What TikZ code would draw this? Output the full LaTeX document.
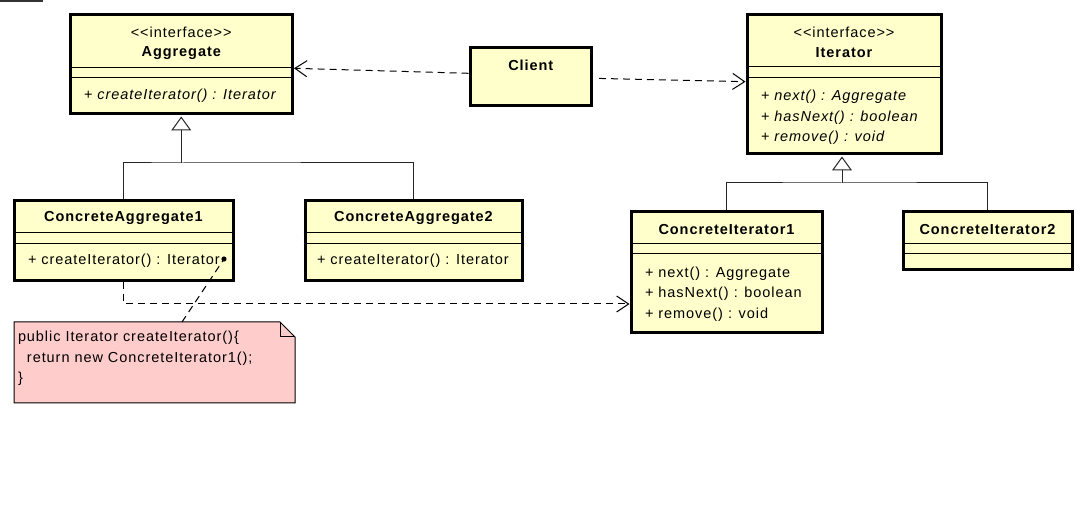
\documentclass[tikz,border=0pt]{standalone}
\usepackage{fontspec}
\setmainfont{Liberation Sans}[LetterSpace=6.5, Ligatures=TeXOff]
\usetikzlibrary{arrows.meta,calc}
\definecolor{umlyellow}{HTML}{FFFFCC}
\definecolor{notepink}{HTML}{FFCCCC}
\begin{document}
\begin{tikzpicture}[x=1pt,y=-1pt,
  font=\fontsize{14.5}{17}\selectfont,
  cls/.style={draw, line width=3pt, fill=umlyellow, inner sep=0pt, outer sep=1.5pt},
  sep/.style={line width=1pt},
  txt/.style={inner sep=0pt, outer sep=0pt},
  lft/.style={txt, anchor=west},
  bname/.style={txt, font=\fontsize{14.5}{17}\selectfont\bfseries},
  dep/.style={line width=1pt, dash pattern=on 7pt off 5pt, -{Straight Barb[length=12pt,width=16pt]}},
  gen/.style={line width=1pt, black!85},
  tri/.style={gen, -{Triangle[open,length=14pt,width=20pt,fill=white]}},
  notebox/.style={inner sep=0pt, outer sep=0pt, minimum width=281pt, minimum height=81pt}
]
\useasboundingbox (0,0) rectangle (1085,518);

% fragment at top left
\draw[line width=2pt, black!80] (0,1) -- (43,1);

% ---------- Aggregate ----------
\node[cls, minimum width=222.5pt, minimum height=99pt] (agg) at (181.25,64.5) {};
\draw[sep] (agg.west |- 0,68) -- (agg.east |- 0,68);
\draw[sep] (agg.west |- 0,78) -- (agg.east |- 0,78);
\node[txt] (aggst) at (agg.north |- 0,32) {<<interface>>};
\node[bname] (aggnm) at (agg.north |- 0,53) {Aggregate};
\node[lft] (aggm1) at (84,96) {+ \textit{createIterator() : Iterator}};

% ---------- Client ----------
\node[cls, minimum width=121.5pt, minimum height=58pt] (client) at (530.75,76.5) {};
\node[bname] (clientnm) at (client.north |- 0,65) {Client};

% ---------- Iterator ----------
\node[cls, minimum width=194pt, minimum height=139pt] (iter) at (844,84.5) {};
\draw[sep] (iter.west |- 0,67) -- (iter.east |- 0,67);
\draw[sep] (iter.west |- 0,78) -- (iter.east |- 0,78);
\node[txt] (iterst) at (iter.north |- 0,32) {<<interface>>};
\node[bname] (iternm) at (iter.north |- 0,53) {Iterator};
\node[lft] (iterm1) at (761,97) {+ \textit{next() : Aggregate}};
\node[lft] (iterm2) at (761,118) {+ \textit{hasNext() : boolean}};
\node[lft] (iterm3) at (761,138) {+ \textit{remove() : void}};

% ---------- ConcreteAggregate1 ----------
\node[cls, minimum width=219pt, minimum height=80pt] (ca1) at (123.5,241) {};
\draw[sep] (ca1.west |- 0,233) -- (ca1.east |- 0,233);
\draw[sep] (ca1.west |- 0,244) -- (ca1.east |- 0,244);
\node[bname] (ca1nm) at (ca1.north |- 0,218) {ConcreteAggregate1};
\node[lft] (ca1m1) at (28,261) {+ createIterator() : Iterator};

% ---------- ConcreteAggregate2 ----------
\node[cls, minimum width=217pt, minimum height=80pt] (ca2) at (413.5,241) {};
\draw[sep] (ca2.west |- 0,233) -- (ca2.east |- 0,233);
\draw[sep] (ca2.west |- 0,244) -- (ca2.east |- 0,244);
\node[bname] (ca2nm) at (ca2.north |- 0,218) {ConcreteAggregate2};
\node[lft] (ca2m1) at (317,261) {+ createIterator() : Iterator};

% ---------- ConcreteIterator1 ----------
\node[cls, minimum width=191pt, minimum height=121pt] (ci1) at (726.5,272.5) {};
\draw[sep] (ci1.west |- 0,243.5) -- (ci1.east |- 0,243.5);
\draw[sep] (ci1.west |- 0,254) -- (ci1.east |- 0,254);
\node[bname] (ci1nm) at (ci1.north |- 0,230) {ConcreteIterator1};
\node[lft] (ci1m1) at (645,274) {+ next() : Aggregate};
\node[lft] (ci1m2) at (645,294) {+ hasNext() : boolean};
\node[lft] (ci1m3) at (645,315) {+ remove() : void};

% ---------- ConcreteIterator2 ----------
\node[cls, minimum width=169pt, minimum height=58pt] (ci2) at (987.5,241) {};
\draw[sep] (ci2.west |- 0,243.5) -- (ci2.east |- 0,243.5);
\draw[sep] (ci2.west |- 0,254) -- (ci2.east |- 0,254);
\node[bname] (ci2nm) at (ci2.north |- 0,230) {ConcreteIterator2};

% ---------- generalisations ----------
\coordinate (aggj) at (agg.south |- 0,163);
\draw[gen] (ca1.north) |- (aggj) -| (ca2.north);
\draw[tri, shorten >=1pt] (aggj) -- (agg.south);

\coordinate (iterj) at (842,183);
\draw[gen] (ci1.north) |- (iterj) -| (ci2.north);
\draw[tri, shorten >=1pt] (iterj) -- (iter.south -| iterj);

% ---------- dependencies ----------
\draw[dep] ([yshift=3.2pt]client.west) -- ([yshift=-3.8pt]agg.east);
\draw[dep, shorten <=6pt] ([yshift=-1.8pt]client.east) -- ([yshift=2.8pt]iter.west);
\draw[dep] (ca1.south) |- ([yshift=-31.5pt]ci1.west);

% ---------- note ----------
\node[notebox] (note) at (154.5,362.5) {};
\draw[line width=1pt, fill=notepink]
  (note.north west) -- ([xshift=-15pt]note.north east) -- ([yshift=-15pt]note.north east)
  -- (note.south east) -- (note.south west) -- cycle;
\draw[line width=1pt] ([xshift=-15pt]note.north east) |- ([yshift=-15pt]note.north east);
\node[lft] (note1) at (18,338) {public Iterator createIterator()\{};
\node[lft] (note2) at (27,359) {return new ConcreteIterator1();};
\node[lft] (note3) at (18,379) {\}};

\coordinate (nanchor) at (224,259);
\draw[line width=1pt, dash pattern=on 7pt off 5pt] ([xshift=27.5pt]note.north) -- (nanchor);
\fill (nanchor) circle (2.6pt);
\end{tikzpicture}
\end{document}
